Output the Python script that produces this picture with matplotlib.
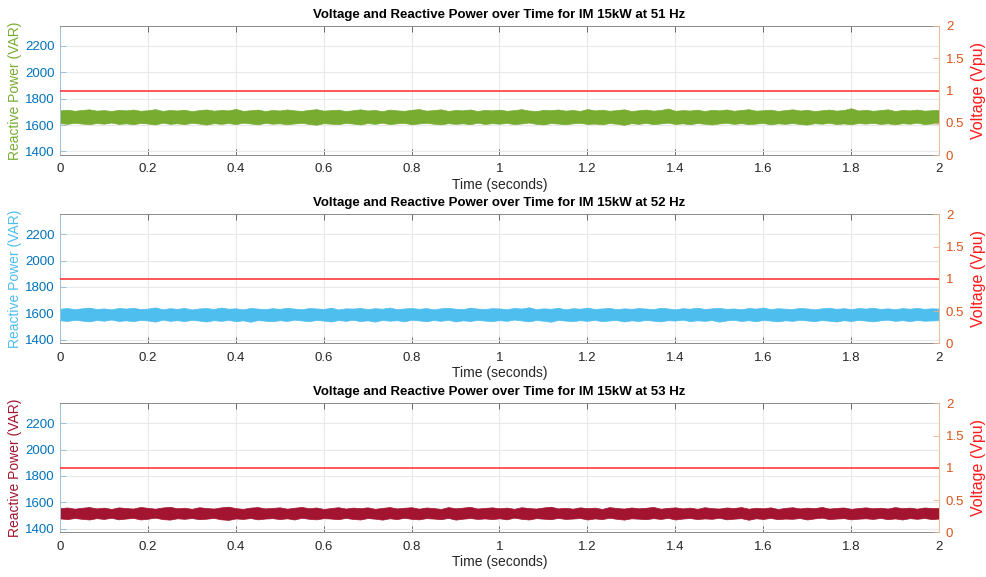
import numpy as np
import matplotlib
matplotlib.use("Agg")
import matplotlib.pyplot as plt

plt.rcParams['font.family'] = ['Liberation Sans', 'DejaVu Sans']

# Frequencies of the three runs
frequencies = [51, 52, 53]

# Reactive power envelope (VAR): upper and lower edges of the oscillating trace
q51_upper = [1711, 1716, 1708, 1714, 1719, 1709, 1713, 1706, 1715, 1711,
             1717, 1708, 1712, 1720, 1707, 1714, 1710, 1716, 1705, 1713,
             1718, 1709, 1714, 1711, 1722, 1707, 1712, 1717, 1706, 1714,
             1710, 1718, 1711, 1707, 1715, 1720, 1709, 1713, 1716, 1706,
             1712, 1719, 1710, 1714, 1705, 1717, 1711, 1708, 1715, 1721,
             1709, 1713, 1719, 1707, 1714, 1711, 1718, 1706, 1715, 1711,
             1716, 1708, 1713, 1720, 1710, 1706, 1715, 1712, 1718, 1709,
             1714, 1707, 1721, 1711, 1716, 1708, 1713, 1719, 1706, 1712,
             1717, 1709, 1714, 1725, 1708, 1713, 1710, 1716, 1706, 1715,
             1711, 1718, 1708, 1714, 1720, 1709, 1712, 1716, 1707, 1713,
             1719, 1710, 1715, 1706, 1712, 1717, 1709, 1714, 1727, 1710,
             1715, 1708, 1713, 1719, 1706, 1714, 1711, 1717, 1709, 1712,
             1714]
q51_lower = [1614, 1609, 1617, 1611, 1606, 1615, 1610, 1619, 1608, 1613,
             1606, 1616, 1611, 1604, 1618, 1609, 1613, 1607, 1617, 1611,
             1603, 1614, 1609, 1615, 1607, 1618, 1612, 1605, 1616, 1610,
             1613, 1606, 1612, 1617, 1608, 1602, 1614, 1610, 1607, 1616,
             1611, 1604, 1615, 1609, 1618, 1607, 1613, 1616, 1606, 1612,
             1617, 1610, 1605, 1614, 1609, 1613, 1606, 1618, 1608, 1614,
             1610, 1616, 1607, 1612, 1619, 1609, 1604, 1615, 1611, 1606,
             1613, 1617, 1608, 1611, 1605, 1615, 1610, 1601, 1614, 1609,
             1616, 1607, 1612, 1618, 1608, 1613, 1606, 1615, 1610, 1604,
             1612, 1617, 1609, 1614, 1607, 1611, 1616, 1605, 1613, 1609,
             1615, 1608, 1603, 1614, 1610, 1617, 1607, 1612, 1606, 1615,
             1611, 1616, 1608, 1613, 1605, 1614, 1610, 1618, 1607, 1612,
             1611]

q52_upper = [1635, 1640, 1632, 1638, 1643, 1633, 1637, 1630, 1641, 1636,
             1642, 1632, 1636, 1645, 1631, 1639, 1634, 1641, 1629, 1637,
             1640, 1633, 1644, 1635, 1638, 1630, 1641, 1636, 1632, 1639,
             1634, 1642, 1636, 1631, 1640, 1637, 1633, 1643, 1629, 1638,
             1636, 1641, 1632, 1639, 1635, 1644, 1631, 1637, 1640, 1634,
             1640, 1630, 1638, 1642, 1635, 1632, 1643, 1636, 1633, 1639,
             1637, 1631, 1641, 1636, 1646, 1632, 1638, 1634, 1642, 1630,
             1639, 1635, 1643, 1633, 1637, 1641, 1631, 1638, 1634, 1640,
             1636, 1632, 1642, 1637, 1630, 1639, 1635, 1643, 1633, 1638,
             1641, 1634, 1637, 1631, 1640, 1636, 1644, 1632, 1639, 1635,
             1633, 1641, 1637, 1630, 1638, 1642, 1634, 1639, 1632, 1640,
             1636, 1643, 1633, 1638, 1631, 1640, 1635, 1641, 1634, 1638,
             1636]
q52_lower = [1547, 1542, 1551, 1545, 1539, 1549, 1544, 1553, 1542, 1547,
             1540, 1550, 1546, 1537, 1552, 1543, 1548, 1541, 1551, 1545,
             1538, 1548, 1543, 1550, 1541, 1547, 1536, 1549, 1544, 1540,
             1548, 1542, 1552, 1546, 1540, 1550, 1545, 1538, 1549, 1543,
             1551, 1541, 1547, 1537, 1550, 1544, 1548, 1539, 1552, 1546,
             1540, 1549, 1543, 1551, 1538, 1547, 1542, 1550, 1545, 1541,
             1548, 1543, 1553, 1546, 1539, 1549, 1544, 1536, 1550, 1545,
             1541, 1548, 1543, 1551, 1540, 1546, 1549, 1538, 1547, 1542,
             1550, 1544, 1539, 1548, 1545, 1552, 1541, 1547, 1543, 1549,
             1537, 1546, 1551, 1542, 1548, 1540, 1550, 1545, 1539, 1547,
             1543, 1551, 1546, 1540, 1549, 1544, 1538, 1548, 1542, 1550,
             1545, 1539, 1547, 1552, 1543, 1548, 1541, 1549, 1544, 1546,
             1548]

q53_upper = [1556, 1561, 1552, 1559, 1564, 1554, 1560, 1550, 1562, 1557,
             1553, 1565, 1558, 1552, 1561, 1566, 1555, 1559, 1551, 1563,
             1557, 1553, 1562, 1567, 1556, 1551, 1560, 1564, 1554, 1558,
             1562, 1552, 1559, 1565, 1555, 1561, 1550, 1557, 1563, 1553,
             1560, 1556, 1562, 1551, 1558, 1564, 1554, 1559, 1563, 1552,
             1561, 1557, 1550, 1564, 1555, 1560, 1566, 1553, 1558, 1562,
             1555, 1560, 1551, 1563, 1557, 1553, 1561, 1567, 1554, 1559,
             1552, 1562, 1556, 1560, 1550, 1564, 1557, 1553, 1561, 1555,
             1559, 1565, 1552, 1558, 1562, 1554, 1560, 1551, 1563, 1556,
             1553, 1561, 1557, 1564, 1552, 1559, 1555, 1562, 1550, 1558,
             1563, 1554, 1560, 1556, 1565, 1553, 1558, 1561, 1551, 1557,
             1562, 1555, 1559, 1553, 1564, 1556, 1560, 1552, 1561, 1557,
             1556]
q53_lower = [1478, 1473, 1481, 1475, 1470, 1480, 1474, 1483, 1471, 1477,
             1482, 1470, 1476, 1484, 1473, 1469, 1479, 1475, 1481, 1472,
             1476, 1482, 1471, 1467, 1478, 1474, 1481, 1471, 1477, 1480,
             1473, 1479, 1470, 1483, 1475, 1471, 1480, 1477, 1472, 1482,
             1474, 1470, 1481, 1476, 1469, 1479, 1473, 1483, 1475, 1471,
             1480, 1477, 1472, 1482, 1469, 1476, 1481, 1474, 1478, 1473,
             1479, 1471, 1484, 1475, 1470, 1480, 1476, 1472, 1482, 1474,
             1477, 1481, 1470, 1478, 1473, 1483, 1475, 1469, 1479, 1476,
             1472, 1480, 1474, 1482, 1470, 1477, 1481, 1473, 1478, 1475,
             1483, 1471, 1476, 1480, 1468, 1479, 1474, 1482, 1472, 1477,
             1475, 1481, 1470, 1478, 1484, 1473, 1477, 1480, 1471, 1476,
             1479, 1474, 1482, 1472, 1478, 1470, 1480, 1475, 1481, 1473,
             1477]

# Supply voltage (per unit), constant over the run
voltage_time = [0.0, 2.0]
voltage_pu = [1.0, 1.0]

q_upper = [q51_upper, q52_upper, q53_upper]
q_lower = [q51_lower, q52_lower, q53_lower]
q_colors = ['#77AC30', '#4DBEEE', '#A2142F']

x_ticks = [0, 0.2, 0.4, 0.6, 0.8, 1.0, 1.2, 1.4, 1.6, 1.8, 2.0]
x_ticklabels = ['0', '0.2', '0.4', '0.6', '0.8', '1', '1.2', '1.4', '1.6', '1.8', '2']
q_ticks = [1400, 1600, 1800, 2000, 2200]
v_ticks = [0, 0.5, 1.0, 1.5, 2.0]
v_ticklabels = ['0', '0.5', '1', '1.5', '2']

LEFT_C = '#0072BD'
RIGHT_C = '#D95319'
TEXT_C = '#262626'

W, H = 987, 577
fig = plt.figure(figsize=(W / 100, H / 100), dpi=100)

ax_left, ax_right = 60, 939
ax_tops = [26, 214.3, 403.3]
ax_h = 129

for i, f in enumerate(frequencies):
    top = ax_tops[i]
    rect = [ax_left / W, 1 - (top + ax_h) / H, (ax_right - ax_left) / W, ax_h / H]
    ax = fig.add_axes(rect)
    upper = np.array(q_upper[i])
    lower = np.array(q_lower[i])
    t = np.linspace(0, 2, len(upper))
    ax.fill_between(t, lower, upper, color=q_colors[i], lw=0.5, edgecolor=q_colors[i])

    ax.set_xlim(0, 2)
    ax.set_ylim(1373, 2350)
    ax.set_xticks(x_ticks)
    ax.set_xticklabels(x_ticklabels)
    ax.set_yticks(q_ticks)
    ax.grid(True, color='#e8e8e8', lw=0.8)
    ax.set_axisbelow(True)

    ax.tick_params(axis='x', direction='in', length=4, width=0.6, colors='#555555',
                   labelcolor=TEXT_C, labelsize=9.5, pad=6, top=True)
    ax.tick_params(axis='y', direction='in', length=4, width=0.6, colors='#8fb6d6',
                   labelcolor=LEFT_C, labelsize=9.5, pad=4)
    for s in ['top', 'bottom']:
        ax.spines[s].set_color('#8a8a8a')
        ax.spines[s].set_linewidth(0.7)
    ax.spines['left'].set_color('#9fc0da')
    ax.spines['left'].set_linewidth(0.7)
    ax.spines['right'].set_visible(False)

    ax.set_ylabel('Reactive Power (VAR)', color=q_colors[i], fontsize=10, labelpad=2)
    ax.set_xlabel('Time (seconds)', color=TEXT_C, fontsize=10, labelpad=2)
    ax.set_title(f'Voltage and Reactive Power over Time for IM 15kW at {f} Hz',
                 fontsize=9.5, fontweight='bold', color='black', pad=6)

    ax2 = ax.twinx()
    ax2.plot(voltage_time, voltage_pu, color='#ff2a2a', lw=1.1)
    ax2.set_ylim(0, 2)
    ax2.set_yticks(v_ticks)
    ax2.set_yticklabels(v_ticklabels)
    ax2.tick_params(axis='y', direction='in', length=4, width=0.6, colors='#e8b08c',
                    labelcolor=RIGHT_C, labelsize=9.5, pad=5)
    for s in ['top', 'bottom', 'left']:
        ax2.spines[s].set_visible(False)
    ax2.spines['right'].set_color('#ebbd9e')
    ax2.spines['right'].set_linewidth(0.7)
    ax2.set_ylabel('Voltage (Vpu)', color='#ff1a1a', fontsize=11.5, labelpad=5)

fig.savefig('out.png', dpi=100)
